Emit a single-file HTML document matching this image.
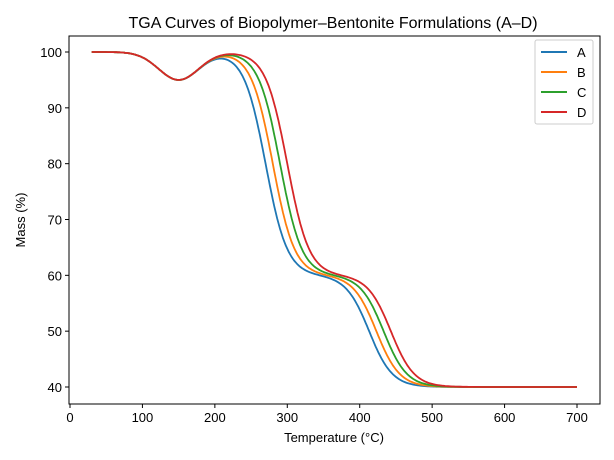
<!DOCTYPE html>
<html><head><meta charset="utf-8"><style>body{margin:0;background:#fff}svg{display:block}text{font-family:"Liberation Sans","DejaVu Sans",sans-serif;fill:#000}</style></head>
<body>
<svg id="s" width="614" height="460" xmlns="http://www.w3.org/2000/svg">
<text x="333" y="28" font-size="16" text-anchor="middle">TGA Curves of Biopolymer–Bentonite Formulations (A–D)</text>
<g id="curves"></g>
<rect x="69" y="36" width="531" height="368" fill="none" stroke="#000" stroke-width="1"/>
<g id="ticks" font-size="13"></g>
<text x="334" y="442" font-size="13" text-anchor="middle">Temperature (°C)</text>
<text transform="translate(25,220) rotate(-90)" font-size="13" text-anchor="middle">Mass (%)</text>
<g>
<rect x="535" y="40" width="58" height="84" fill="#fff" stroke="#ccc" rx="2"/>
<line x1="541" y1="52" x2="567" y2="52" stroke="#1f77b4" stroke-width="2"/><text x="577" y="57" font-size="13">A</text>
<line x1="541" y1="72" x2="567" y2="72" stroke="#ff7f0e" stroke-width="2"/><text x="577" y="77" font-size="13">B</text>
<line x1="541" y1="92" x2="567" y2="92" stroke="#2ca02c" stroke-width="2"/><text x="577" y="97" font-size="13">C</text>
<line x1="541" y1="112" x2="567" y2="112" stroke="#d62728" stroke-width="2"/><text x="577" y="117" font-size="13">D</text>
</g>
</svg>
<script>
var X=function(t){return 70+t*(577-70)/700},Y=function(m){return 387-(m-40)*(387-52)/60};
var g=document.getElementById('curves'),tk=document.getElementById('ticks'),h='';
for(var t=0;t<=700;t+=100){h+='<line x1="'+X(t)+'" y1="404" x2="'+X(t)+'" y2="408" stroke="#000"/><text x="'+X(t)+'" y="422" text-anchor="middle">'+t+'</text>';}
for(var m=40;m<=100;m+=10){h+='<line x1="65" y1="'+Y(m)+'" x2="69" y2="'+Y(m)+'" stroke="#000"/><text x="62" y="'+(Y(m)+5)+'" text-anchor="end">'+m+'</text>';}
tk.innerHTML=h;
var cols=['#1f77b4','#ff7f0e','#2ca02c','#d62728'],out='';
cols.forEach(function(c,i){var s=i*10,d='';
for(var t=30;t<=700;t+=2){var v=100-5*Math.exp(-Math.pow((t-150)/39,2))-40/(1+Math.exp(-(t-270-s)/15))-20/(1+Math.exp(-(t-413-s)/16));
d+=(t==30?'M':'L')+X(t).toFixed(1)+','+Y(v).toFixed(1);}
out+='<path d="'+d+'" fill="none" stroke="'+c+'" stroke-width="1.8"/>';});
g.innerHTML=out;
</script>
</body></html>
